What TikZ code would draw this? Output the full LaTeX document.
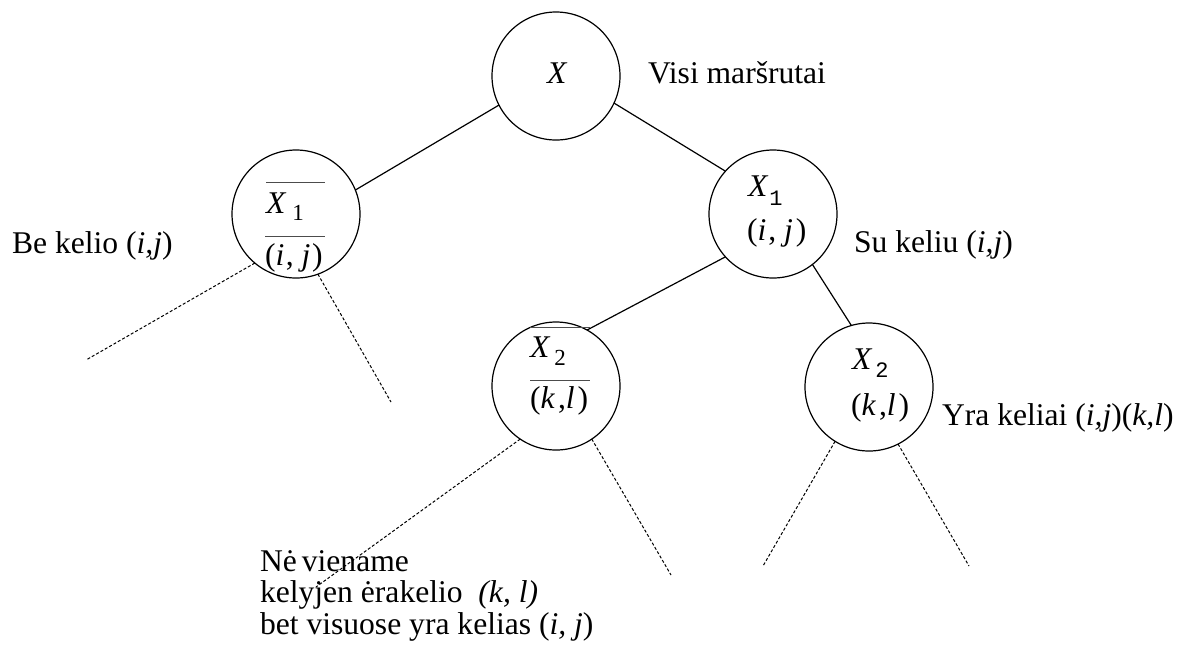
\documentclass[tikz,border=0pt]{standalone}
\usepackage{fontspec}
\setmainfont{Liberation Serif}
\newfontfamily\monof{Liberation Mono}
\newcommand{\ovl}[2]{\rlap{\raisebox{#2}{\color{black!70}\rule{#1}{0.7pt}}}}
\newcommand{\sbs}[2]{\raisebox{#1}{\fontsize{11.5}{11.5}\selectfont #2}}
\newcommand{\msb}[2]{\raisebox{#1}{\monof\fontsize{11}{11}\selectfont #2}}
\begin{document}
\begin{tikzpicture}[x=0.5pt,y=-0.5pt,
  every node/.style={inner sep=0pt, outer sep=0pt, font=\fontsize{15.8}{15.7}\selectfont},
  vert/.style={circle, draw, line width=0.6pt, minimum size=64pt},
  txt/.style={anchor=base west},
  edge/.style={line width=0.6pt},
  dotline/.style={line width=0.5pt, dash pattern=on 1.5pt off 1pt}]
\useasboundingbox (0,0) rectangle (1181,650);

% circles
\node[vert] (X)   at (556,76)  {};
\node[vert] (X1b) at (296,214) {};
\node[vert] (X1)  at (773,214) {};
\node[vert] (X2b) at (556,386) {};
\node[vert] (X2)  at (869,387) {};

% solid edges
\draw[edge] (X.207) -- (X1b.22);
\draw[edge] (X.-25) -- (X1.138);
\draw[edge] (X1.222) -- (X2b.61);
\draw[edge] (X1.-52) -- (X2.106);

% dashed continuation lines
\coordinate (e1) at (86,360);
\coordinate (e2) at (391,402);
\coordinate (e3) at (316,587);
\coordinate (e4) at (671,575);
\coordinate (e5) at (763,566);
\coordinate (e6) at (969,566);
\draw[dotline] (X1b.230) -- (e1);
\draw[dotline] (X1b.290) -- (e2);
\draw[dotline] (X2b.236) -- (e3);
\draw[dotline] (X2b.304) -- (e4);
\draw[dotline] (X2.238) -- (e5);
\draw[dotline] (X2.297) -- (e6);

% circle contents
\node[txt] (tX)   at (547,83)  {\textit{X}};
\node[txt] (tX1b) at (266,213) {\ovl{29.5pt}{15pt}\textit{X}\hspace{3pt}\sbs{-3.5pt}{1}};
\node[txt] (tij1) at (265,265) {\ovl{30pt}{14pt}(\textit{i}\hspace{0.8pt}, \textit{j}\hspace{0.8pt})};
\node[txt] (tX1)  at (748,196) {\textit{X}\hspace{0.5pt}\msb{-4.5pt}{1}};
\node[txt] (tij2) at (747,240) {(\textit{i}\hspace{1pt}, \textit{j}\hspace{1.5pt})};
\node[txt] (tX2b) at (530,357) {\ovl{30pt}{14.5pt}\textit{X}\hspace{2pt}\sbs{-4pt}{2}};
\node[txt] (tkl1) at (530,408) {\ovl{30pt}{13.5pt}(\textit{k}\hspace{1.5pt},\textit{l}\hspace{1.5pt})};
\node[txt] (tX2)  at (852,369) {\textit{X}\hspace{1.5pt}\msb{-4pt}{2}};
\node[txt] (tkl2) at (851,415) {(\textit{k}\hspace{1.5pt},\textit{l}\hspace{1.5pt})};

% labels
\node[txt] (lv) at (648,83)  {Visi maršrutai};
\node[txt] (lb) at (12,253)  {Be kelio (\textit{i,j})};
\node[txt] (ls) at (854,252) {Su keliu (\textit{i,j})};
\node[txt] (ly) at (942,425) {Yra keliai (\textit{i,j})(\textit{k,l})};
\node[txt, align=left] (lbot) at (260,634)
  {Nė\hspace{2.5pt}viename\\kelyjen ėrakelio \ \textit{(k, l)}\\bet visuose yra kelias (\textit{i, j})};
\end{tikzpicture}
\end{document}
